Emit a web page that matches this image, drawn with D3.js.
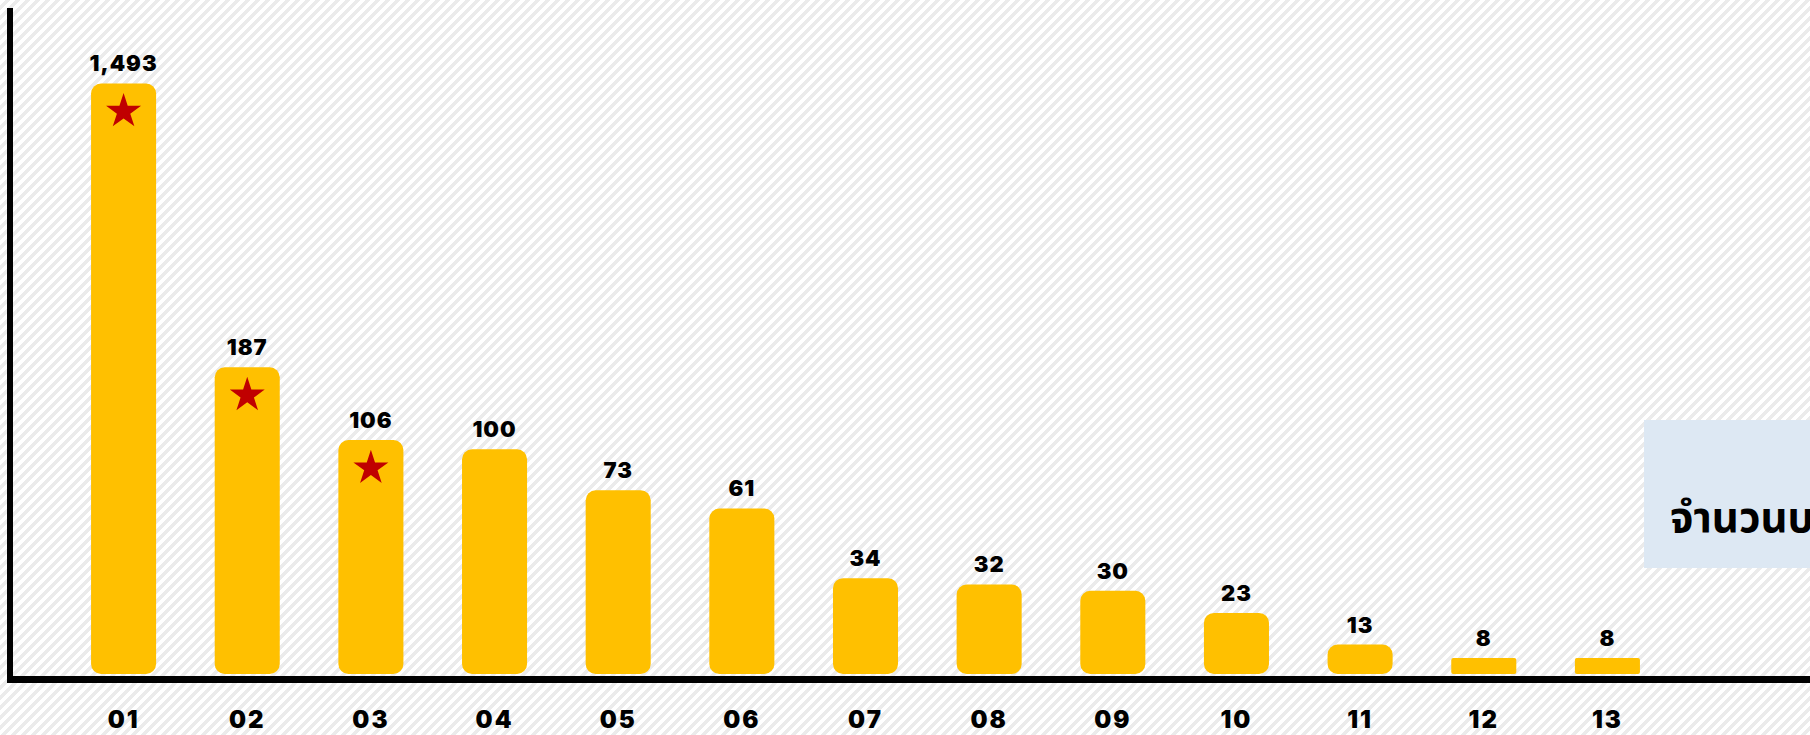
<!DOCTYPE html>
<html>
<head>
<meta charset="utf-8">
<script src="https://cdn.jsdelivr.net/npm/d3@7"></script>
<style>
  html, body { margin: 0; padding: 0; overflow: hidden; background: #fff; }
  svg { display: block; }
</style>
</head>
<body>
<svg id="chart"></svg>
<script>
// chart data
const categories = ["01", "02", "03", "04", "05", "06", "07", "08", "09", "10", "11", "12", "13"];
const values = [1493, 187, 106, 100, 73, 61, 34, 32, 30, 23, 13, 8, 8];
const starred = ["01", "02", "03"];
const boxText = "จำนวนบริษัท";

const W = 1810, H = 735;
const baseY = 674;

const svg = d3.select("#chart")
    .attr("width", W)
    .attr("height", H);

// striped background, hard stair-stepped diagonals like the original
const defs = svg.append("defs");
const pat = defs.append("pattern")
    .attr("id", "stripes")
    .attr("patternUnits", "userSpaceOnUse")
    .attr("width", 10)
    .attr("height", 10);
pat.append("rect").attr("width", 10).attr("height", 10).attr("fill", "#ebebeb");
pat.append("path")
    .attr("d", "M0,0 L5,0 L0,5 Z M10,0 L10,5 L5,10 L0,10 Z")
    .attr("fill", "#ffffff")
    .attr("shape-rendering", "crispEdges");

svg.append("rect")
    .attr("width", W)
    .attr("height", H)
    .attr("fill", "url(#stripes)");

// scales (the original is hand-scaled, so use a piecewise linear scale)
const x = d3.scaleBand()
    .domain(categories)
    .range([62, 1669])
    .paddingInner(0.474)
    .paddingOuter(0.235);

const y = d3.scaleLinear()
    .domain([0, 10, 35, 60, 110, 200, 1500])
    .range([baseY, 654, 575, 510, 434, 356, 82]);

const data = categories.map((c, i) => ({ cat: c, value: values[i] }));

// bars
svg.selectAll(".bar")
    .data(data)
    .enter()
    .append("rect")
    .attr("class", "bar")
    .attr("x", d => x(d.cat))
    .attr("y", d => y(d.value))
    .attr("width", x.bandwidth())
    .attr("height", d => baseY - y(d.value))
    .attr("rx", d => (baseY - y(d.value)) < 20 ? 2 : 10)
    .attr("fill", "#ffc000");

// stars on the top three
svg.selectAll(".star")
    .data(data.filter(d => starred.includes(d.cat)))
    .enter()
    .append("path")
    .attr("class", "star")
    .attr("d", d3.symbol().type(d3.symbolStar).size(380))
    .attr("transform", d => `translate(${x(d.cat) + x.bandwidth() / 2}, ${y(d.value) + 28})`)
    .attr("fill", "#c00000");

// value labels
svg.selectAll(".val")
    .data(data)
    .enter()
    .append("text")
    .attr("class", "val")
    .attr("x", d => x(d.cat) + x.bandwidth() / 2)
    .attr("y", d => y(d.value) - 12)
    .attr("text-anchor", "middle")
    .style("font-family", "Inter, 'Open Sans', sans-serif")
    .style("font-weight", "900")
    .style("font-size", "22px")
    .style("letter-spacing", "1px")
    .style("fill", "#000")
    .text(d => d3.format(",")(d.value));

// x axis labels
const xAxis = svg.append("g")
    .attr("transform", `translate(0, 683)`)
    .call(d3.axisBottom(x).tickSize(0));
xAxis.select(".domain").remove();
xAxis.selectAll("text")
    .attr("y", 45)
    .attr("dy", null)
    .style("font-family", "Inter, 'Open Sans', sans-serif")
    .style("font-weight", "900")
    .style("font-size", "24px")
    .style("letter-spacing", "2px")
    .style("fill", "#000");

// axis lines
svg.append("line")
    .attr("x1", 10).attr("x2", 10)
    .attr("y1", 8).attr("y2", 683)
    .attr("stroke", "#000")
    .attr("stroke-width", 6);

svg.append("line")
    .attr("x1", 7).attr("x2", W)
    .attr("y1", 679.5).attr("y2", 679.5)
    .attr("stroke", "#000")
    .attr("stroke-width", 7);

// note box on the right (cut off by the frame, as in the original)
svg.append("rect")
    .attr("x", 1644)
    .attr("y", 420)
    .attr("width", 400)
    .attr("height", 148)
    .attr("fill", "#dde8f3");

svg.append("text")
    .attr("x", 1670)
    .attr("y", 532)
    .style("font-family", "'Noto Sans Thai', 'Noto Sans', sans-serif")
    .style("font-weight", "700")
    .style("font-size", "42px")
    .style("fill", "#000")
    .text(boxText);
</script>
</body>
</html>
